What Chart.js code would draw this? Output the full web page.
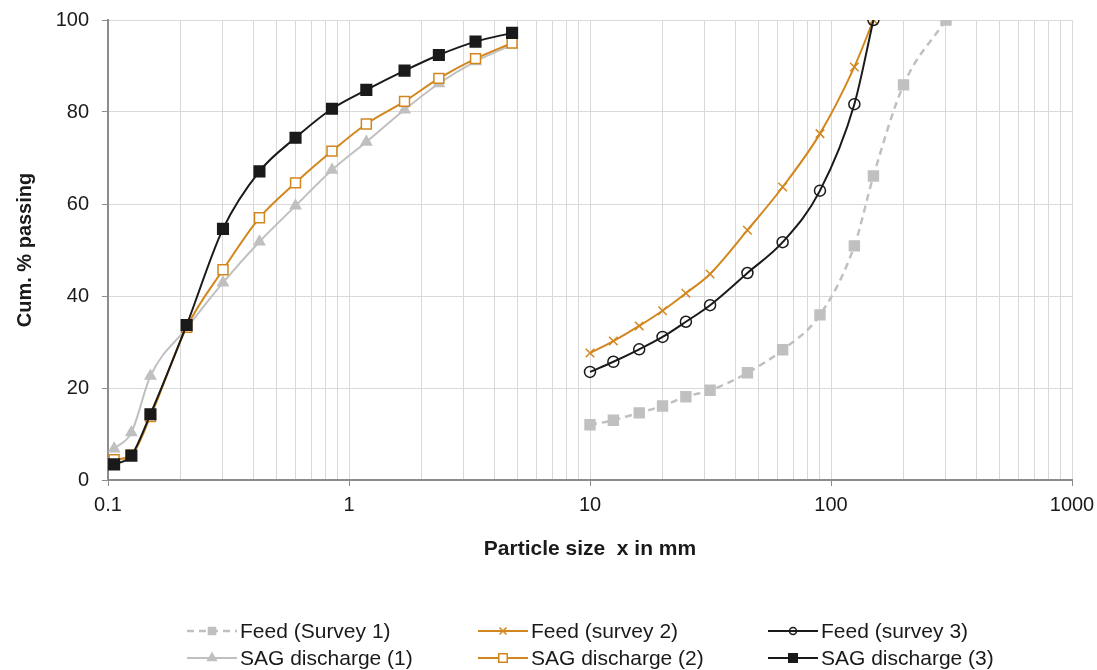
<!DOCTYPE html>
<html>
<head>
<meta charset="utf-8">
<script src="https://cdn.jsdelivr.net/npm/chart.js@4.4.1/dist/chart.umd.min.js"></script>
<style>
  html, body { margin: 0; padding: 0; background: #fff; }
  #wrap { width: 1097px; height: 670px; }
</style>
</head>
<body>
<div id="wrap"><canvas id="myChart" width="1097" height="670"></canvas></div>
<script>
// sieve sizes (mm)
const sagSizes = [0.106, 0.125, 0.15, 0.212, 0.3, 0.425, 0.6, 0.85, 1.18, 1.7, 2.36, 3.35, 4.75];
const feedSizes1 = [10, 12.5, 16, 20, 25, 31.5, 45, 63, 90, 125, 150, 200, 300];
const feedSizes = [10, 12.5, 16, 20, 25, 31.5, 45, 63, 90, 125, 150];

// cumulative % passing
const feed1 = [12, 13, 14.6, 16.1, 18.1, 19.5, 23.3, 28.3, 35.9, 50.9, 66.1, 85.9, 100];
const feed2 = [27.6, 30.2, 33.5, 36.8, 40.6, 44.8, 54.3, 63.7, 75.3, 89.8, 100];
const feed3 = [23.5, 25.7, 28.4, 31.1, 34.4, 38, 45, 51.7, 62.9, 81.7, 100];
const sag1 = [6.8, 10.3, 22.6, 33, 42.9, 51.8, 59.6, 67.4, 73.5, 80.5, 86.2, 91, 94.6];
const sag2 = [4.4, 5.4, 13.8, 33.2, 45.7, 57, 64.6, 71.5, 77.4, 82.3, 87.3, 91.6, 95];
const sag3 = [3.4, 5.3, 14.3, 33.7, 54.6, 67.1, 74.4, 80.7, 84.8, 89, 92.4, 95.3, 97.2];

const labels = ['Feed (Survey 1)', 'Feed (survey 2)', 'Feed (survey 3)',
                'SAG discharge (1)', 'SAG discharge (2)', 'SAG discharge (3)'];

const xTicks = [];
for (let e = -1; e < 3; e++) {
  for (let m = 1; m < 10; m++) xTicks.push(+(m * Math.pow(10, e)).toPrecision(3));
}
xTicks.push(1000);
const decades = [0.1, 1, 10, 100, 1000];

const GREY = '#c0c0c0';
const ORANGE = '#d2871e';
const BLACK = '#1a1a1a';
const FONT = '"Liberation Sans", Arial, sans-serif';

const pts = (xs, ys) => xs.map((x, i) => ({x: x, y: ys[i]}));

function series(label, xs, ys, opts) {
  return Object.assign({
    label: label,
    data: pts(xs, ys),
    borderWidth: 2,
    pointBorderWidth: 1.5,
    cubicInterpolationMode: 'monotone',
    fill: false
  }, opts);
}

const datasets = [
  series(labels[5], sagSizes, sag3, {borderColor: BLACK, pointBackgroundColor: BLACK, pointBorderColor: BLACK, pointStyle: 'rect', pointRadius: 7.5, legendR: 6}),
  series(labels[4], sagSizes, sag2, {borderColor: ORANGE, pointBackgroundColor: '#fff', pointBorderColor: ORANGE, pointStyle: 'rect', pointRadius: 7, legendR: 6}),
  series(labels[3], sagSizes, sag1, {borderColor: GREY, pointBackgroundColor: GREY, pointBorderColor: GREY, pointStyle: 'triangle', pointRadius: 6, legendR: 5}),
  series(labels[2], feedSizes, feed3, {borderColor: BLACK, pointBackgroundColor: 'rgba(0,0,0,0)', pointBorderColor: BLACK, pointStyle: 'circle', pointRadius: 5.5, legendR: 3.5}),
  series(labels[1], feedSizes, feed2, {borderColor: ORANGE, pointBackgroundColor: ORANGE, pointBorderColor: ORANGE, pointStyle: 'crossRot', pointRadius: 6, legendR: 5}),
  series(labels[0], feedSizes1, feed1, {borderColor: GREY, borderWidth: 2.5, borderDash: [7, 5], pointBackgroundColor: GREY, pointBorderColor: GREY, pointStyle: 'rect', pointRadius: 7, legendR: 5})
];

// legend drawn on the canvas, two rows x three columns
const legendPlugin = {
  id: 'sheetLegend',
  afterDraw(chart) {
    const ctx = chart.ctx;
    const cols = [187, 478, 768];
    const rows = [631, 658];
    ctx.save();
    ctx.font = '21px ' + FONT;
    ctx.textBaseline = 'middle';
    labels.forEach((lab, i) => {
      const ds = chart.data.datasets.find(d => d.label === lab);
      const x0 = cols[i % 3], y = rows[Math.floor(i / 3)];
      ctx.strokeStyle = ds.borderColor;
      ctx.lineWidth = ds.borderWidth;
      ctx.setLineDash(ds.borderDash || []);
      ctx.beginPath();
      ctx.moveTo(x0, y);
      ctx.lineTo(x0 + 50, y);
      ctx.stroke();
      ctx.setLineDash([]);
      ctx.fillStyle = ds.pointBackgroundColor;
      ctx.strokeStyle = ds.pointBorderColor;
      ctx.lineWidth = 1.5;
      Chart.helpers.drawPoint(ctx, {pointStyle: ds.pointStyle, radius: ds.legendR, rotation: 0, borderWidth: 1.5}, x0 + 25, y);
      ctx.fillStyle = '#1a1a1a';
      ctx.fillText(lab, x0 + 53, y + 1);
    });
    ctx.restore();
  }
};

const ctx = document.getElementById('myChart');
new Chart(ctx, {
  type: 'line',
  data: {datasets: datasets},
  plugins: [legendPlugin],
  options: {
    responsive: false,
    animation: false,
    layout: {padding: {top: 20, right: 25, bottom: 0, left: 0}},
    plugins: {legend: {display: false}, tooltip: {enabled: false}},
    scales: {
      x: {
        type: 'logarithmic',
        min: 0.1,
        max: 1000,
        afterBuildTicks: (s) => { s.ticks = xTicks.map(v => ({value: v})); },
        afterFit: (s) => { s.height = 190; s.paddingLeft = 0; s.paddingRight = 0; },
        ticks: {
          autoSkip: false,
          maxRotation: 0,
          padding: 7,
          color: '#1a1a1a',
          font: {family: FONT, size: 20},
          callback: (v) => decades.includes(+v.toPrecision(3)) ? String(+v.toPrecision(3)) : ''
        },
        grid: {
          color: '#d9d9d9',
          lineWidth: 1,
          tickLength: 6,
          tickColor: (c) => (c.tick && decades.includes(+c.tick.value.toPrecision(3))) ? '#8c8c8c' : 'rgba(0,0,0,0)'
        },
        border: {color: '#8c8c8c', width: 2},
        title: {
          display: true,
          text: 'Particle size  x in mm',
          color: '#1a1a1a',
          font: {family: FONT, size: 21, weight: 'bold'},
          padding: {top: 0, bottom: 108}
        }
      },
      y: {
        min: 0,
        max: 100,
        afterFit: (s) => { s.width = 108; s.paddingTop = 0; s.paddingBottom = 0; },
        ticks: {
          stepSize: 20,
          padding: 13,
          color: '#1a1a1a',
          font: {family: FONT, size: 20}
        },
        grid: {color: '#d9d9d9', lineWidth: 1, tickLength: 6, tickColor: '#8c8c8c'},
        border: {color: '#8c8c8c', width: 2},
        title: {
          display: true,
          text: 'Cum. % passing',
          color: '#1a1a1a',
          font: {family: FONT, size: 20, weight: 'bold'},
          padding: {top: 13, bottom: 0}
        }
      }
    }
  }
});
</script>
</body>
</html>
